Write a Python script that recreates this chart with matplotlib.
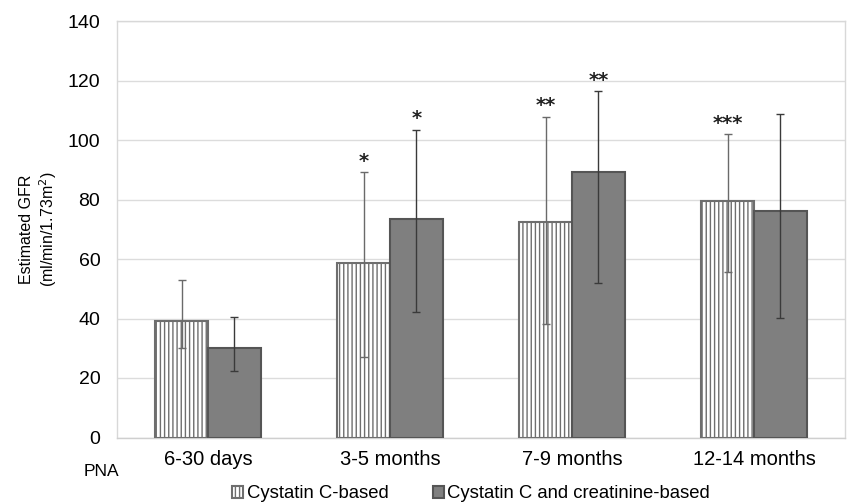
import matplotlib
matplotlib.use("Agg")
import matplotlib.pyplot as plt
import numpy as np

plt.rcParams['font.family'] = ['Liberation Sans', 'DejaVu Sans']

categories = ["6-30 days", "3-5 months", "7-9 months", "12-14 months"]
cys_vals = [39, 58.5, 72.5, 79.6]
cys_upper = [53, 89.1, 107.8, 101.9]
cys_lower = [30.1, 27.0, 38.2, 55.7]
cre_vals = [30, 73.4, 89.3, 76.1]
cre_upper = [40.5, 103.5, 116.4, 108.6]
cre_lower = [22.4, 42.2, 51.8, 40.1]
cys_sig = ["", "*", "**", "***"]
cre_sig = ["", "*", "**", ""]
series_names = ["Cystatin C-based", "Cystatin C and creatinine-based"]
yticks = [0, 20, 40, 60, 80, 100, 120, 140]

fig = plt.figure(figsize=(8.47, 5.04), dpi=100)
ax = fig.add_axes([117/847, 66.5/504, 728/847, 416.5/504])

x = np.arange(len(categories))
w = 0.29

cys_vals_a = np.array(cys_vals)
cre_vals_a = np.array(cre_vals)
cys_err = [cys_vals_a - np.array(cys_lower), np.array(cys_upper) - cys_vals_a]
cre_err = [cre_vals_a - np.array(cre_lower), np.array(cre_upper) - cre_vals_a]

b1 = ax.bar(x - w/2, cys_vals, w, color='white', edgecolor='#6e6e6e', hatch='||||',
            linewidth=1.5, label=series_names[0], zorder=3)
b2 = ax.bar(x + w/2, cre_vals, w, color='#7f7f7f', edgecolor='#555555',
            linewidth=1.5, label=series_names[1], zorder=3)
ax.errorbar(x - w/2, cys_vals, yerr=cys_err, fmt='none', ecolor='#6a6a6a',
            elinewidth=1.0, capsize=3, capthick=1.0, zorder=4)
ax.errorbar(x + w/2, cre_vals, yerr=cre_err, fmt='none', ecolor='#3a3a3a',
            elinewidth=1.0, capsize=3, capthick=1.0, zorder=4)

for i in range(len(categories)):
    if cys_sig[i]:
        ax.text(x[i] - w/2, cys_upper[i] + 0.5, cys_sig[i], ha='center', va='bottom',
                fontsize=14, fontweight='bold', color='#222222', family='DejaVu Sans')
    if cre_sig[i]:
        ax.text(x[i] + w/2, cre_upper[i] + 0.5, cre_sig[i], ha='center', va='bottom',
                fontsize=14, fontweight='bold', color='#222222', family='DejaVu Sans')

ax.set_xlim(-0.5, len(categories) - 0.5)
ax.set_ylim(0, 140)
ax.set_yticks(yticks)
ax.set_xticks(x)
ax.set_xticklabels(categories, fontsize=14.5)
ax.tick_params(axis='y', labelsize=14, length=0, pad=12)
ax.tick_params(axis='x', length=0, pad=9)
ax.grid(axis='y', color='#dcdcdc', linewidth=1.0, zorder=0)
ax.set_axisbelow(True)
for s in ['left', 'top', 'right']:
    ax.spines[s].set_color('#d8d8d8')
    ax.spines[s].set_linewidth(1.0)
ax.spines['bottom'].set_color('#cfcfcf')
ax.spines['bottom'].set_linewidth(1.0)

ax.set_ylabel("Estimated GFR\n(ml/min/1.73m$^2$)", fontsize=11.5, labelpad=6)

fig.text(84/847, 1 - 472/504, "PNA", fontsize=12.5, ha='left', va='center')

leg = fig.legend(handles=[b1, b2], loc='center', bbox_to_anchor=(471/847, 1 - 494/504),
                 ncol=2, frameon=False, fontsize=13.3, handlelength=0.6, handleheight=0.6,
                 handletextpad=0.2, columnspacing=2.4, borderpad=0)

fig.savefig("out.png", dpi=100)
